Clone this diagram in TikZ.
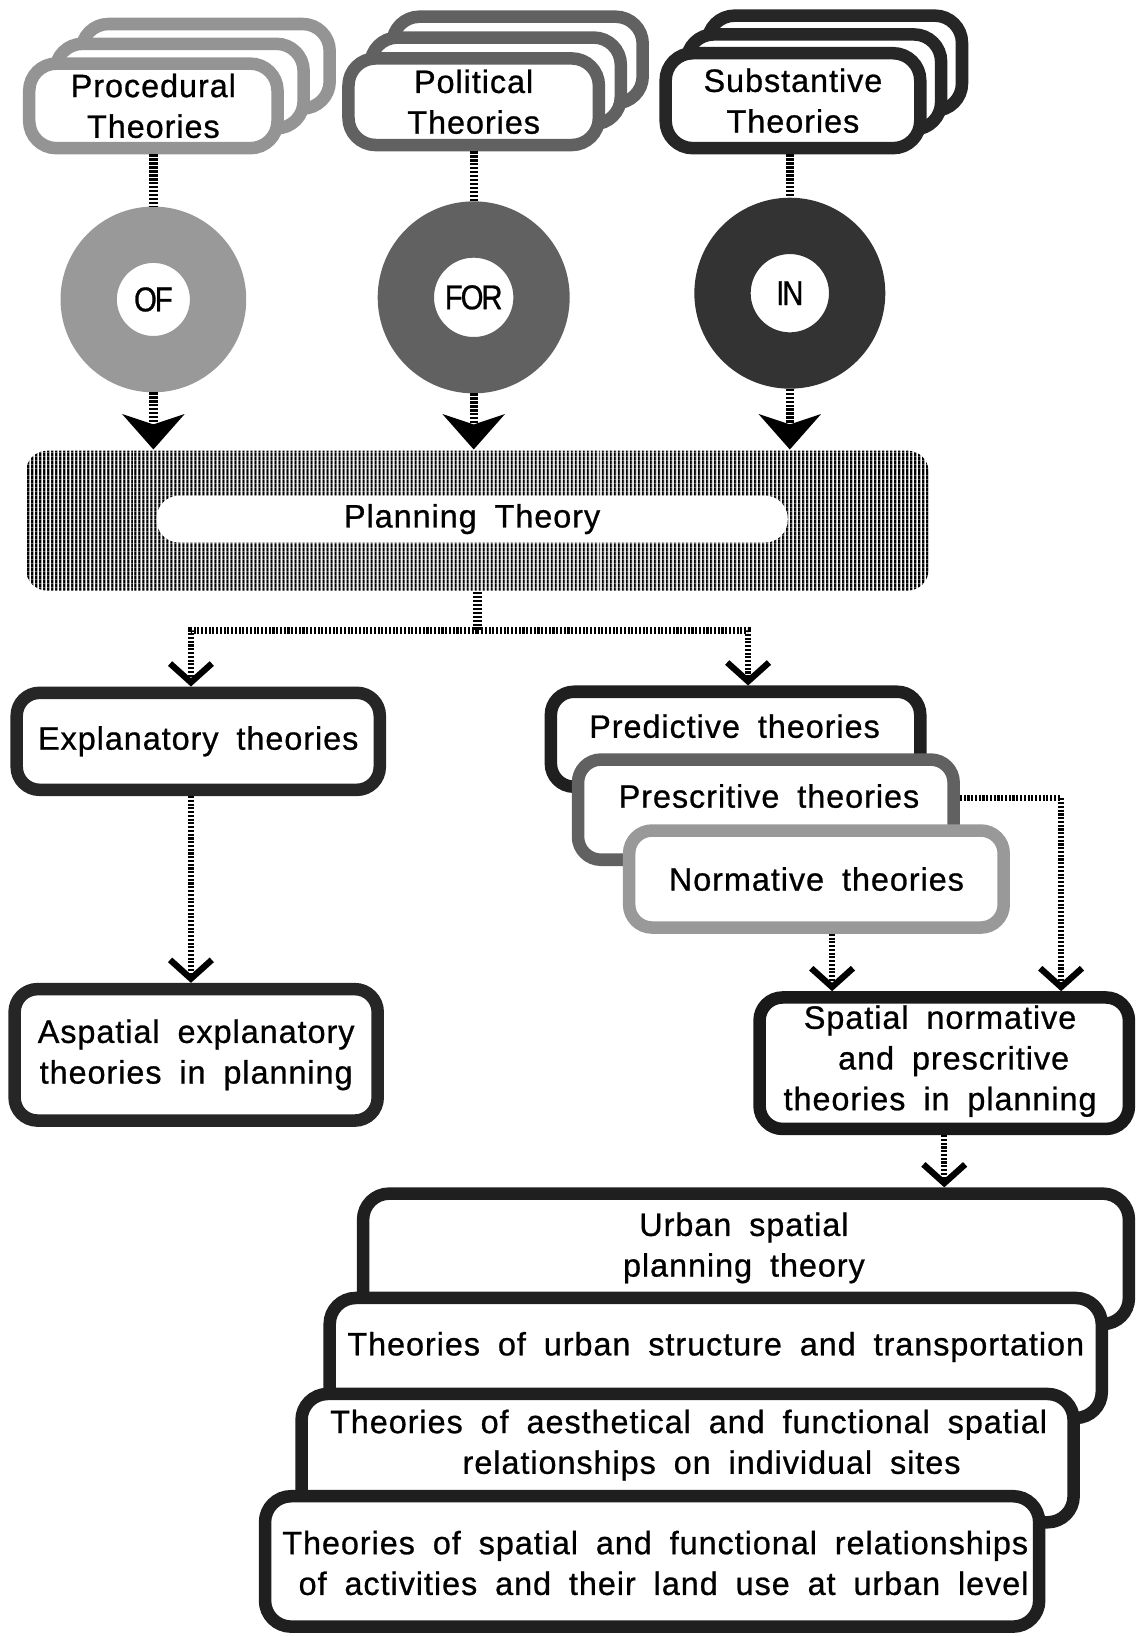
\documentclass[tikz,border=0pt]{standalone}
\usepackage{fontspec}
\setmainfont{Liberation Sans}[LetterSpace=3, WordSpace=1.8, FakeBold=0.8]
\newfontfamily\ringfont{Liberation Sans}[LetterSpace=-6, FakeStretch=0.85, FakeBold=0.8]
\usetikzlibrary{arrows.meta, patterns.meta}

\begin{document}
\begin{tikzpicture}[x=1pt, y=-1pt,
  every node/.style={font=\fontsize{31}{39}\selectfont, inner sep=0pt},
  topbox/.style={draw=#1, line width=12pt, fill=white, rounded corners=26pt},
  box/.style={draw=#1, line width=12pt, fill=white, rounded corners=22pt},
  ring/.style={circle, draw=#1, line width=54pt, fill=white,
               font=\ringfont\fontsize{33}{33}\selectfont},
  hatch/.style={draw=black, line width=8pt, dash pattern=on 2.2pt off 1.6pt},
  thinhatch/.style={draw=black, line width=6pt, dash pattern=on 2pt off 1.6pt},
  heavy/.style={-{Stealth[length=34pt, width=60pt, inset=10pt, line width=0pt]}},
  light/.style={-{Straight Barb[length=18pt, width=40pt, line width=6pt]}},
  txt/.style={align=center},
]
\useasboundingbox (0,0) rectangle (1095,1568);

% ---------- top stacks of theory cards ----------
\draw[topbox=black!42] (78,23) rectangle (316,104);
\draw[topbox=black!42] (53,42) rectangle (291,123);
\node[topbox=black!42, minimum width=238pt, minimum height=81pt, txt]
  (proc) at (147,101.5) {Procedural\\Theories};

\draw[topbox=black!62] (376,16) rectangle (616,99);
\draw[topbox=black!62] (355,36) rectangle (595,119);
\node[topbox=black!62, minimum width=240pt, minimum height=83pt, txt]
  (pol) at (454,97.5) {Political\\Theories};

\draw[topbox=black!85] (678,15) rectangle (922,106);
\draw[topbox=black!85] (658,33) rectangle (902,124);
\node[topbox=black!85, minimum width=244pt, minimum height=91pt, txt]
  (sub) at (760,96.5) {Substantive\\Theories};

% ---------- rings ----------
\node[ring=black!40, minimum size=124pt] (of)  at (147,287) {OF};
\node[ring=black!62, minimum size=130pt] (for) at (454,285) {FOR};
\node[ring=black!80, minimum size=129pt] (in)  at (757,281) {IN};

% ---------- planning theory bar ----------
\node[rounded corners=20pt, minimum width=865pt, minimum height=134pt,
      pattern={Lines[angle=90, distance=4pt, line width=2.4pt]}, pattern color=black]
  (bar) at (457.5,499) {};
\node[fill=white, rounded corners=22pt, minimum width=605pt, minimum height=45pt]
  (pt) at (452.5,497.5) {Planning Theory};

% ---------- connectors from the cards into the bar ----------
\draw[hatch] (proc.south) -- (proc.south |- of.north);
\draw[hatch] (pol.south -| for.north) -- (for.north);
\draw[hatch] (sub.south -| in.north) -- (in.north);
\draw[hatch, heavy] (of.south) -- (of.south |- bar.north);
\draw[hatch, heavy] (for.south) -- (for.south |- bar.north);
\draw[hatch, heavy] (in.south) -- (in.south |- bar.north);

% ---------- second level ----------
\node[box=black!85, minimum width=348pt, minimum height=93pt]
  (expl) at (190,710.5) {Explanatory theories};
\node[box=black!85, minimum width=348pt, minimum height=126pt, txt]
  (asp) at (188,1011) {Aspatial explanatory\\theories in planning};

\node[box=black!88, minimum width=354pt, minimum height=91pt] (pred) at (705,708.5) {};
\node (predT) at (704,696) {Predictive theories};
\node[box=black!62, minimum width=360pt, minimum height=96pt] (presc) at (734,776) {};
\node (prescT) at (737,763) {Prescritive theories};
\node[box=black!40, minimum width=359pt, minimum height=93pt]
  (norm) at (782.5,842.5) {Normative theories};

\node[box=black!90, minimum width=354pt, minimum height=126pt, txt]
  (spat) at (905,1019) {};
\node[txt] (spatT) at (901,1017)
  {Spatial normative\\\hspace*{26pt}and prescritive\\theories in planning};

% split below the bar
\coordinate (split) at ([yshift=-37pt]bar.south);
\draw[hatch] (bar.south) -- (split);
\draw[thinhatch, light] (split) -| ([xshift=-7pt]expl.north);
\draw[thinhatch, light] (split) -| ([xshift=12pt]pred.north);

\draw[thinhatch, light] ([xshift=-7pt]expl.south) -- ([xshift=-7pt]expl.south |- asp.north);
\draw[thinhatch, light] ([xshift=15pt]norm.south) -- ([xshift=15pt]norm.south |- spat.north);
\draw[thinhatch, light] ([yshift=11pt]presc.east) -| ([xshift=112pt]spat.north);

% ---------- bottom stack of spatial theories ----------
\node[box=black!88, rounded corners=25pt, minimum width=734pt, minimum height=125pt]
  (urb) at (715,1206.5) {};
\node[txt] (urbT) at (713,1196) {Urban spatial\\planning theory};
\node[box=black!88, rounded corners=25pt, minimum width=740pt, minimum height=115pt]
  (str) at (686,1301.5) {};
\node (strT) at (686,1291) {Theories of urban structure and transportation};
\node[box=black!88, rounded corners=25pt, minimum width=740pt, minimum height=123pt]
  (aes) at (659,1397.5) {};
\node[txt] (aesT) at (660,1385)
  {Theories of aesthetical and functional spatial\\\hspace*{44pt}relationships on individual sites};
\node[box=black!88, rounded corners=25pt, minimum width=742pt, minimum height=125pt]
  (land) at (625,1496.5) {};
\node[txt] (landT) at (628,1498)
  {Theories of spatial and functional relationships\\\hspace*{16pt}of activities and their land use at urban level};

\draw[thinhatch, light] (spat.south) -- (spat.south |- urb.north);

\end{tikzpicture}
\end{document}
